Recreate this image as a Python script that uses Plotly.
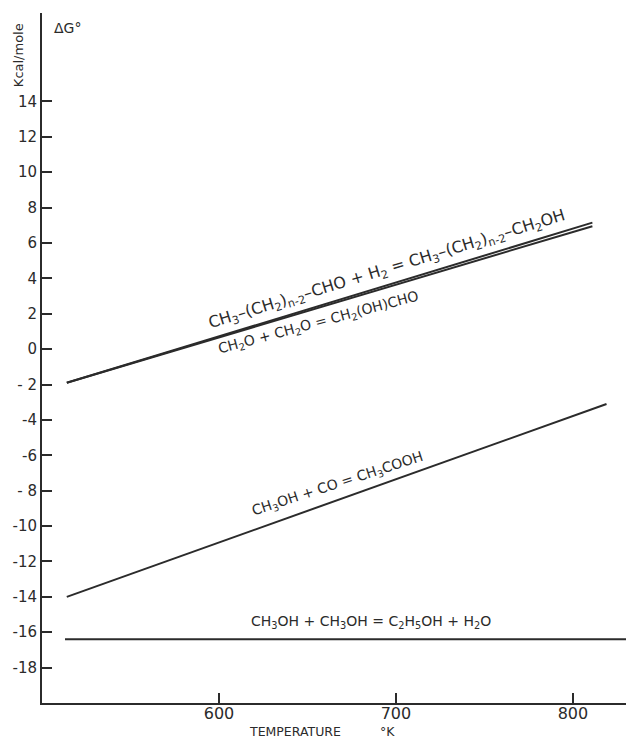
import plotly.graph_objects as go

# Standard free-energy change (kcal/mole) versus temperature (K) for four reactions
aldehyde_h2_T = [514, 811]
aldehyde_h2_dG = [-1.9, 7.15]

glycolaldehyde_T = [514, 811]
glycolaldehyde_dG = [-1.9, 6.95]

acetic_acid_T = [514, 819]
acetic_acid_dG = [-14.0, -3.1]

ethanol_T = [513, 830]
ethanol_dG = [-16.4, -16.4]

y_tick_vals = [14, 12, 10, 8, 6, 4, 2, 0, -2, -4, -6, -8, -10, -12, -14, -16, -18]
y_tick_text = ["14", "12", "10", "8", "6", "4", "2", "0", "- 2", "-4", "-6", "- 8", "-10", "-12", "-14", "-16", "-18"]
x_tick_vals = [600, 700, 800]
x_tick_text = ["600", "700", "800"]

INK = "#2b2b2b"
FONT = "DejaVu Sans"

fig = go.Figure()
for T, dG in [
    (aldehyde_h2_T, aldehyde_h2_dG),
    (glycolaldehyde_T, glycolaldehyde_dG),
    (acetic_acid_T, acetic_acid_dG),
    (ethanol_T, ethanol_dG),
]:
    fig.add_trace(go.Scatter(x=T, y=dG, mode="lines",
                             line=dict(color=INK, width=2), showlegend=False,
                             hoverinfo="skip"))

annotations = [
    dict(x=695, y=4.5, textangle=-17, size=16,
         text="CH<sub>3</sub>–(CH<sub>2</sub>)<sub>n-2</sub>–CHO + H<sub>2</sub> = "
              "CH<sub>3</sub>–(CH<sub>2</sub>)<sub>n-2</sub>–CH<sub>2</sub>OH"),
    dict(x=656, y=1.5, textangle=-15, size=14,
         text="CH<sub>2</sub>O + CH<sub>2</sub>O = CH<sub>2</sub>(OH)CHO"),
    dict(x=667, y=-7.6, textangle=-18, size=14,
         text="CH<sub>3</sub>OH + CO = CH<sub>3</sub>COOH"),
    dict(x=686, y=-15.4, textangle=0, size=14,
         text="CH<sub>3</sub>OH + CH<sub>3</sub>OH = C<sub>2</sub>H<sub>5</sub>OH + H<sub>2</sub>O"),
]
for a in annotations:
    size = a.pop("size")
    fig.add_annotation(xref="x", yref="y", showarrow=False,
                       font=dict(family=FONT, size=size, color=INK), **a)

# Axis titles
fig.add_annotation(xref="paper", yref="paper", x=0.017, y=0.978,
                   xanchor="left", yanchor="middle",
                   showarrow=False, text="ΔG°",
                   font=dict(family=FONT, size=14, color=INK))
fig.add_annotation(xref="paper", yref="paper", x=-0.041, y=0.939, textangle=-90,
                   xanchor="center", yanchor="middle",
                   showarrow=False, text="Kcal/mole",
                   font=dict(family=FONT, size=13, color=INK))
fig.add_annotation(xref="paper", yref="paper", x=0.433, y=-0.042,
                   xanchor="center", yanchor="middle",
                   showarrow=False, text="TEMPERATURE",
                   font=dict(family=FONT, size=12.5, color=INK))
fig.add_annotation(xref="paper", yref="paper", x=0.592, y=-0.042,
                   xanchor="center", yanchor="middle",
                   showarrow=False, text="°K",
                   font=dict(family=FONT, size=12.5, color=INK))

fig.update_xaxes(range=[500, 830], showgrid=False, zeroline=False,
                 showline=True, linecolor=INK, linewidth=2,
                 ticks="inside", ticklen=10, tickwidth=2, tickcolor=INK,
                 tickvals=x_tick_vals, ticktext=x_tick_text,
                 ticklabelstandoff=-5,
                 tickfont=dict(family=FONT, size=16, color=INK))
fig.update_yaxes(range=[-20, 19], showgrid=False, zeroline=False,
                 showline=True, linecolor=INK, linewidth=2,
                 ticks="inside", ticklen=10, tickwidth=2, tickcolor=INK,
                 tickvals=y_tick_vals, ticktext=y_tick_text,
                 tickfont=dict(family=FONT, size=15, color=INK))

fig.update_layout(width=626, height=740,
                  margin=dict(l=42, r=0, t=13, b=37),
                  paper_bgcolor="white", plot_bgcolor="white")

fig.write_html("out.html")
